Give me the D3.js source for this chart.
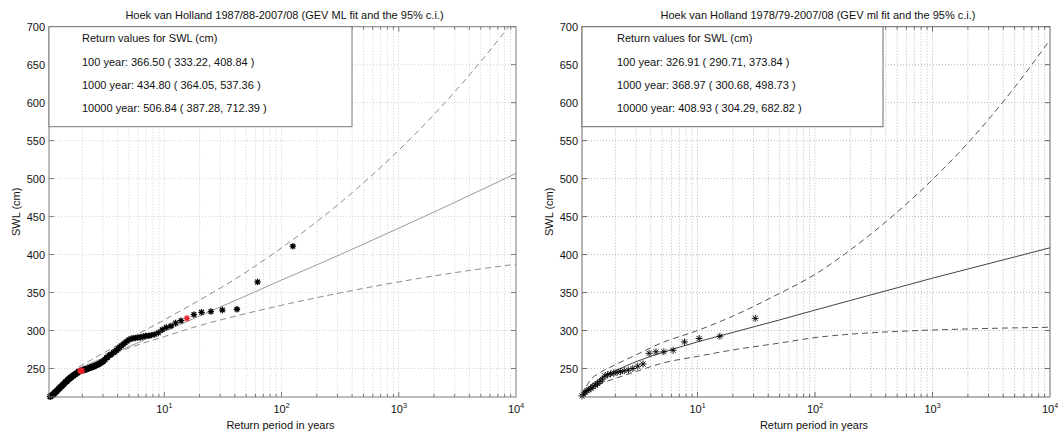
<!DOCTYPE html>
<html><head><meta charset="utf-8">
<script src="https://cdn.jsdelivr.net/npm/d3@7"></script>
<style>
body{margin:0;background:#fff;}
svg{display:block;font-family:"Liberation Sans",Arial,Helvetica,sans-serif;}
</style>
</head><body>
<svg id="c" width="1060" height="433"></svg>
<script>
// ---------------- DATA ----------------
const yTicks = [250, 300, 350, 400, 450, 500, 550, 600, 650, 700];
const xDecades = [10, 100, 1000, 10000];
const xDecadeLabels = ["1", "2", "3", "4"];
const xDomain = [1.04, 10000];
const yDomain = [212.5, 700];
const xLabel = "Return period in years";
const yLabel = "SWL (cm)";

const leftTitle = "Hoek van Holland 1987/88-2007/08 (GEV ML fit and the 95% c.i.)";
const leftLegend = ["Return values for SWL (cm)",
  "100 year: 366.50 ( 333.22, 408.84 )",
  "1000 year: 434.80 ( 364.05, 537.36 )",
  "10000 year: 506.84 ( 387.28, 712.39 )"];
const leftFitT  = [1.86, 3, 5, 10, 20, 50, 100, 200, 500, 1000, 2000, 5000, 10000];
const leftFit   = [250, 263.9, 278.8, 298.9, 319.1, 345.8, 366.5, 386.4, 413.7, 434.8, 456.0, 484.8, 506.84];
const leftUpper = [252, 270, 289, 314, 340, 377, 408.84, 443.3, 494.4, 537.36, 584.5, 654.1, 712.39];
const leftLower = [249, 263, 277, 292, 306.5, 322.4, 333.22, 343.3, 355.5, 364.05, 371.9, 381.2, 387.28];
const leftObs = [[125,411],[62.5,364],[41.7,328],[31.3,327],[25,325],[20.8,324],[17.9,321],[13.9,313],[12.5,310],[11.4,306],[10.4,304],[9.6,301],[8.9,297],[8.3,295],[7.8,294],[7.35,293],[6.94,293],[6.58,292],[6.25,291],[5.95,291],[5.68,290],[5.43,290],[5.21,289],[5.0,288],[4.81,286],[4.63,284],[4.46,282],[4.31,280],[4.17,278],[4.03,276],[3.91,274],[3.79,272],[3.68,271],[3.57,269],[3.47,268],[3.38,267],[3.29,265],[3.21,264],[3.13,262],[3.05,260],[2.98,259],[2.91,258],[2.84,257],[2.78,256],[2.72,255],[2.66,255],[2.6,254],[2.55,253],[2.5,253],[2.45,252],[2.4,252],[2.36,251],[2.31,251],[2.27,250],[2.23,250],[2.19,249],[2.16,249],[2.12,249],[2.08,248],[2.05,248],[2.02,248],[1.89,246],[1.86,246],[1.84,245],[1.81,244],[1.79,244],[1.76,243],[1.74,242],[1.71,242],[1.69,241],[1.67,240],[1.64,240],[1.62,239],[1.6,238],[1.58,238],[1.56,237],[1.54,236],[1.52,236],[1.5,235],[1.49,234],[1.47,233],[1.45,233],[1.43,232],[1.42,231],[1.4,230],[1.38,229],[1.37,229],[1.35,228],[1.34,227],[1.32,226],[1.31,226],[1.29,225],[1.28,224],[1.26,223],[1.25,223],[1.24,222],[1.22,221],[1.21,220],[1.2,220],[1.18,219],[1.17,218],[1.16,218],[1.15,217],[1.14,216],[1.13,216],[1.12,215],[1.1,215],[1.09,214],[1.08,214],[1.07,213],[1.06,213]];
const leftRed = [[15.6,316],[1.98,247],[1.95,247],[1.92,247]];

const rightTitle = "Hoek van Holland 1978/79-2007/08 (GEV ml fit and the 95% c.i.)";
const rightLegend = ["Return values for SWL (cm)",
  "100 year: 326.91 ( 290.71, 373.84 )",
  "1000 year: 368.97 ( 300.68, 498.73 )",
  "10000 year: 408.93 ( 304.29, 682.82 )"];
const rightFitT  = [1.04, 1.2, 1.5, 2, 3, 5, 10, 20, 50, 100, 200, 500, 1000, 2000, 5000, 10000];
const rightFit   = [214, 226, 237, 247, 259, 271, 285, 297.5, 314, 326.91, 339.6, 356.3, 368.97, 381.0, 396.9, 408.93];
const rightUpper = [215, 233, 245, 255, 268, 284, 300, 319, 349, 373.84, 406.2, 455.9, 498.73, 546.9, 620.2, 682.82];
const rightLower = [213, 222, 230, 237, 246, 257, 266, 274.5, 283.5, 290.71, 295.2, 298.8, 300.68, 302.1, 303.5, 304.29];
const rightObs = [[31,316],[15.5,292.5],[10.33,289.5],[7.75,285],[6.2,274],[5.17,272],[4.43,272],[3.875,270],[3.44,256],[3.1,253],[2.82,250],[2.58,248],[2.38,247],[2.21,246],[2.07,245],[1.94,244],[1.82,243],[1.72,242],[1.63,240],[1.55,236],[1.48,233],[1.41,230],[1.35,228],[1.29,226],[1.24,224],[1.192,222],[1.148,221],[1.107,219],[1.069,216],[1.04,214]];

// ---------------- DRAW ----------------
const svg = d3.select("#c");
const defs = svg.append("defs");
defs.append("filter").attr("id","soft").append("feGaussianBlur").attr("stdDeviation",0.55);

function star(s){
  const d = 0.72*s;
  return `M${-s},0L${s},0M0,${-s}L0,${s}M${-d},${-d}L${d},${d}M${-d},${d}L${d},${-d}`;
}

function panel(cfg){
  const g = svg.append("g");
  const x = d3.scaleLog().domain(xDomain).range([cfg.left, cfg.right]);
  const y = d3.scaleLinear().domain(yDomain).range([cfg.bottom, cfg.top]);
  const clipId = "clip" + cfg.id;
  defs.append("clipPath").attr("id", clipId).append("rect")
    .attr("x", cfg.left).attr("y", cfg.top).attr("width", cfg.right-cfg.left).attr("height", cfg.bottom-cfg.top);

  // grid
  const minor = [];
  for (let k=0;k<4;k++) for (let m=1;m<10;m++){ const v=m*Math.pow(10,k); if(v>xDomain[0] && v<xDomain[1]) minor.push(v); }
  g.append("g").selectAll("line").data(minor).join("line")
    .attr("x1", d=>x(d)).attr("x2", d=>x(d)).attr("y1", cfg.top).attr("y2", cfg.bottom)
    .attr("stroke", cfg.grid).attr("stroke-width", 0.8).attr("stroke-dasharray", "1,2");
  g.append("g").selectAll("line").data(yTicks.filter(v=>v<yDomain[1])).join("line")
    .attr("x1", cfg.left).attr("x2", cfg.right).attr("y1", d=>y(d)).attr("y2", d=>y(d))
    .attr("stroke", cfg.grid).attr("stroke-width", 0.8).attr("stroke-dasharray", "1,2");

  // ticks (inside)
  const tk = g.append("g").attr("stroke", cfg.axis).attr("stroke-width", 1);
  minor.forEach(v=>{
    const L = xDecades.includes(v) ? 5 : 3;
    tk.append("line").attr("x1",x(v)).attr("x2",x(v)).attr("y1",cfg.bottom).attr("y2",cfg.bottom-L);
    tk.append("line").attr("x1",x(v)).attr("x2",x(v)).attr("y1",cfg.top).attr("y2",cfg.top+L);
  });
  yTicks.forEach(v=>{
    tk.append("line").attr("x1",cfg.left).attr("x2",cfg.left+5).attr("y1",y(v)).attr("y2",y(v));
    tk.append("line").attr("x1",cfg.right).attr("x2",cfg.right-5).attr("y1",y(v)).attr("y2",y(v));
  });

  // lines
  const lg = g.append("g").attr("clip-path", `url(#${clipId})`);
  const line = d3.line().x(d=>x(d[0])).y(d=>y(d[1])).curve(d3.curveMonotoneX);
  const mk = (T, V) => T.map((t,i)=>[t, V[i]]);
  lg.append("path").attr("d", line(mk(cfg.fitT, cfg.upper))).attr("fill","none")
    .attr("stroke", cfg.dash).attr("stroke-width", 1).attr("stroke-dasharray","6,4");
  lg.append("path").attr("d", line(mk(cfg.fitT, cfg.lower))).attr("fill","none")
    .attr("stroke", cfg.dash).attr("stroke-width", 1).attr("stroke-dasharray","6,4");
  lg.append("path").attr("d", line(mk(cfg.fitT, cfg.fit))).attr("fill","none")
    .attr("stroke", cfg.solid).attr("stroke-width", 1);

  // points
  const pg = g.append("g");
  if (cfg.blur) pg.attr("filter","url(#soft)");
  pg.selectAll("path.o").data(cfg.obs).join("path").attr("class","o")
    .attr("transform", d=>`translate(${x(d[0])},${y(d[1])})`)
    .attr("d", star(cfg.ms)).attr("fill","none").attr("stroke","#000").attr("stroke-width", cfg.mw);
  pg.selectAll("path.r").data(cfg.red).join("path").attr("class","r")
    .attr("transform", d=>`translate(${x(d[0])},${y(d[1])})`)
    .attr("d", star(cfg.ms)).attr("fill","none").attr("stroke","#e8202a").attr("stroke-width", cfg.mw);

  // axes box
  g.append("rect").attr("x", cfg.left).attr("y", cfg.top).attr("width", cfg.right-cfg.left).attr("height", cfg.bottom-cfg.top)
    .attr("fill","none").attr("stroke", cfg.axis).attr("stroke-width", 1);

  // legend box
  g.append("rect").attr("x", cfg.left).attr("y", cfg.top).attr("width", cfg.boxW).attr("height", cfg.boxH)
    .attr("fill","#fff").attr("stroke", cfg.axis).attr("stroke-width", 1);
  const lt = g.append("g").attr("font-size", 11).attr("fill", "#111");
  cfg.legend.forEach((s,i)=>{
    lt.append("text").attr("x", cfg.left + cfg.textDx).attr("y", cfg.top + 15.5 + i*23.3).text(s);
  });

  // tick labels
  const tl = g.append("g").attr("font-size", 11).attr("fill", "#111");
  yTicks.forEach(v=>{
    tl.append("text").attr("x", cfg.left-4).attr("y", y(v)+4).attr("text-anchor","end").text(v);
  });
  xDecades.forEach((v,i)=>{
    const t = tl.append("text").attr("x", x(v)).attr("y", cfg.bottom+16).attr("text-anchor","middle");
    t.append("tspan").text("10");
    t.append("tspan").attr("dy", -5).attr("font-size", 7).text(xDecadeLabels[i]);
  });
  // titles
  tl.append("text").attr("x", (cfg.left+cfg.right)/2 + 2).attr("y", 19).attr("text-anchor","middle").text(cfg.title);
  tl.append("text").attr("x", (cfg.left+cfg.right)/2 - 2).attr("y", 429).attr("text-anchor","middle").text(xLabel);
  tl.append("text").attr("transform", `translate(${cfg.left-29},${(cfg.top+cfg.bottom)/2}) rotate(-90)`)
    .attr("text-anchor","middle").text(yLabel);
}

panel({id:"L", left:49, right:516, top:26.7, bottom:397, title:leftTitle, legend:leftLegend,
  fitT:leftFitT, fit:leftFit, upper:leftUpper, lower:leftLower, obs:leftObs, red:leftRed,
  grid:"#c4c4c4", axis:"#7a7a7a", dash:"#8c8c8c", solid:"#9a9a9a", ms:3.2, mw:1.3, blur:true,
  boxW:303, boxH:100, textDx:33});
panel({id:"R", left:582, right:1050, top:26.7, bottom:397, title:rightTitle, legend:rightLegend,
  fitT:rightFitT, fit:rightFit, upper:rightUpper, lower:rightLower, obs:rightObs, red:[],
  grid:"#a8a8a8", axis:"#6a6a6a", dash:"#555", solid:"#444", ms:3.5, mw:0.9, blur:false,
  boxW:301, boxH:100, textDx:35});
</script>
</body></html>
